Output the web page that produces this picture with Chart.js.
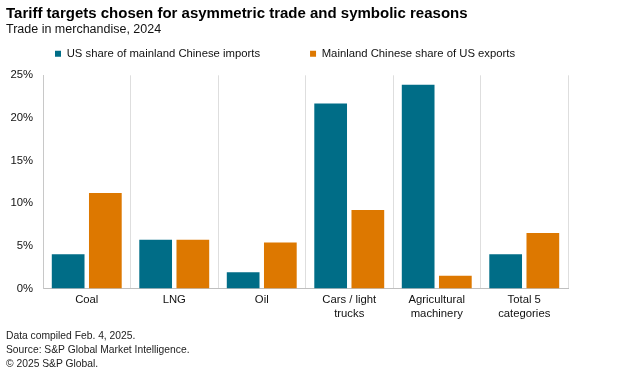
<!DOCTYPE html>
<html>
<head>
<meta charset="utf-8">
<script src="https://cdn.jsdelivr.net/npm/chart.js@4"></script>
<style>
  html, body { margin: 0; padding: 0; background: #fff; }
  #wrap { position: relative; width: 624px; height: 370px; overflow: hidden; font-family: "Liberation Sans", Arial, sans-serif; }
  #c { position: absolute; left: 0; top: 0; }
  .t { position: absolute; left: 6px; white-space: nowrap; color: #000; line-height: 1.15; }
  #title { top: 4px; font-size: 15px; font-weight: bold; }
  #sub { top: 22px; font-size: 12.5px; color: #111; }
  .f { font-size: 10.3px; color: #222; }
</style>
</head>
<body>
<div id="wrap">
  <canvas id="c" width="624" height="370"></canvas>
  <div class="t" id="title">Tariff targets chosen for asymmetric trade and symbolic reasons</div>
  <div class="t" id="sub">Trade in merchandise, 2024</div>
  <div class="t f" style="top:330px">Data compiled Feb. 4, 2025.</div>
  <div class="t f" style="top:344px">Source: S&amp;P Global Market Intelligence.</div>
  <div class="t f" style="top:358px">© 2025 S&amp;P Global.</div>
</div>
<script>
const categories = [
  "Coal",
  "LNG",
  "Oil",
  ["Cars / light", "trucks"],
  ["Agricultural", "machinery"],
  ["Total 5", "categories"]
];
const seriesNames = [
  "US share of mainland Chinese imports",
  "Mainland Chinese share of US exports"
];
const usShareOfChinaImports = [4.0, 5.7, 1.9, 21.7, 23.9, 4.0];
const chinaShareOfUsExports = [11.2, 5.7, 5.4, 9.2, 1.5, 6.5];
const yTicks = [0, 5, 10, 15, 20, 25];

const FONT = '"Liberation Sans", Arial, sans-serif';

const legendPad = {
  id: 'legendPad',
  beforeInit(chart) {
    const orig = chart.legend.fit;
    chart.legend.fit = function () {
      orig.call(this);
      this.height += 6;
    };
  }
};

new Chart(document.getElementById('c'), {
  type: 'bar',
  data: {
    labels: categories,
    datasets: [
      { label: seriesNames[0], data: usShareOfChinaImports, backgroundColor: '#006d87' },
      { label: seriesNames[1], data: chinaShareOfUsExports, backgroundColor: '#dd7800' }
    ]
  },
  options: {
    responsive: false,
    animation: false,
    devicePixelRatio: 1,
    categoryPercentage: 0.85,
    barPercentage: 0.88,
    layout: { padding: { top: -2, left: 5, right: 56, bottom: 44 } },
    plugins: {
      title: { display: false },
      tooltip: { enabled: false },
      legend: {
        display: true,
        position: 'top',
        align: 'start',
        labels: {
          boxWidth: 6,
          boxHeight: 6,
          padding: 50,
          color: '#111',
          font: { family: FONT, size: 11.3 }
        }
      }
    },
    scales: {
      x: {
        offset: true,
        grid: { display: true, offset: true, color: '#dedede', drawTicks: false, lineWidth: 1 },
        border: { display: true, color: '#bfbfbf' },
        ticks: { color: '#111', padding: 5, font: { family: FONT, size: 11.3, lineHeight: 1.22 }, maxRotation: 0, autoSkip: false }
      },
      y: {
        min: 0,
        max: 25,
        afterBuildTicks(axis) { axis.ticks = yTicks.map(v => ({ value: v })); },
        afterFit(axis) { axis.width = 38; },
        grid: { display: false, drawTicks: false },
        border: { display: true, color: '#c8c8c8' },
        ticks: { color: '#111', padding: 10, font: { family: FONT, size: 11.3 }, callback: v => v + '%' }
      }
    }
  },
  plugins: [legendPad]
});
</script>
</body>
</html>
